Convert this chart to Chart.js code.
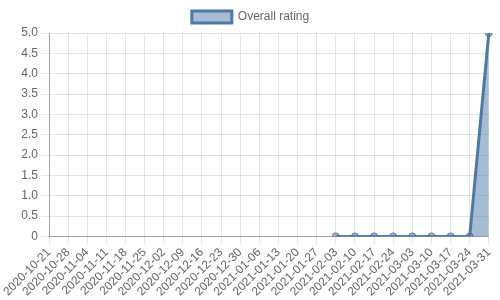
<!DOCTYPE html>
<html>
<head>
<meta charset="utf-8">
<script src="https://cdn.jsdelivr.net/npm/chart.js@4/dist/chart.umd.min.js"></script>
<style>
  html, body { margin: 0; padding: 0; background: #fff; }
  #wrap { width: 500px; height: 300px; position: relative; }
</style>
</head>
<body>
<div id="wrap"><canvas id="chart"></canvas></div>
<script>
// weekly dates (x axis)
const weeks = [
  '2020-10-21', '2020-10-28', '2020-11-04', '2020-11-11', '2020-11-18', '2020-11-25',
  '2020-12-02', '2020-12-09', '2020-12-16', '2020-12-23', '2020-12-30', '2021-01-06',
  '2021-01-13', '2021-01-20', '2021-01-27', '2021-02-03', '2021-02-10', '2021-02-17',
  '2021-02-24', '2021-03-03', '2021-03-10', '2021-03-17', '2021-03-24', '2021-03-31'
];
// rating per week, null where there is no data
const overallRating = [
  null, null, null, null, null, null,
  null, null, null, null, null, null,
  null, null, null, 0, 0, 0,
  0, 0, 0, 0, 0, 5
];
const seriesLabel = 'Overall rating';

Chart.defaults.font.family = '"Liberation Sans", Arial, sans-serif';
Chart.defaults.font.size = 12;
Chart.defaults.color = '#666';

new Chart(document.getElementById('chart').getContext('2d'), {
  type: 'line',
  data: {
    labels: weeks,
    datasets: [{
      label: seriesLabel,
      data: overallRating,
      borderColor: '#4e79a7',
      backgroundColor: 'rgba(78,121,167,0.5)',
      borderWidth: 3,
      pointRadius: 3.5,
      pointBorderWidth: 1,
      pointBackgroundColor: 'rgba(78,121,167,0.5)',
      pointBorderColor: '#4e79a7',
      fill: 'origin',
      tension: 0
    }]
  },
  options: {
    responsive: true,
    maintainAspectRatio: false,
    animation: false,
    layout: { padding: { left: 6, right: 5, top: 1 } },
    plugins: {
      legend: {
        position: 'top',
        labels: { boxWidth: 40, boxHeight: 12, padding: 10 }
      },
      tooltip: { enabled: false }
    },
    scales: {
      x: {
        ticks: { minRotation: 45, maxRotation: 45, autoSkip: false, padding: 1 },
        grid: { color: 'rgba(0,0,0,0.1)' },
        border: { color: 'rgba(0,0,0,0.3)' }
      },
      y: {
        min: 0,
        max: 5,
        afterFit: s => { s.width = 43; },
        ticks: { stepSize: 0.5, callback: v => v === 0 ? '0' : v.toFixed(1) },
        grid: { color: 'rgba(0,0,0,0.1)' },
        border: { color: 'rgba(0,0,0,0.3)' }
      }
    }
  }
});
</script>
</body>
</html>
